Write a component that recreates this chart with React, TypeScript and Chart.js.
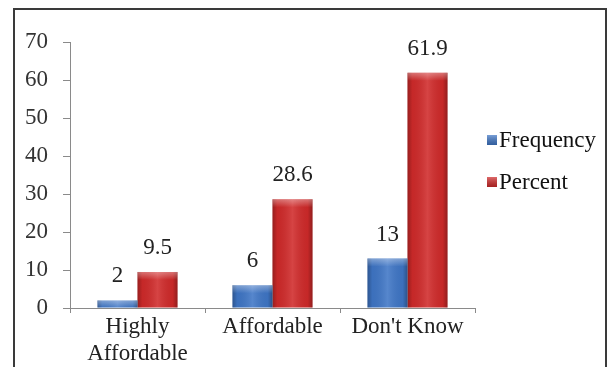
import React, { useEffect, useRef } from "react";
import { Chart, registerables } from "chart.js";

Chart.register(...registerables);

const categories: (string | string[])[] = [["Highly", "Affordable"], "Affordable", "Don't Know"];
const frequency = [2, 6, 13];
const percent = [9.5, 28.6, 61.9];
const seriesNames = ["Frequency", "Percent"];
const seriesColors = ["#3f76c6", "#d02a2a"];
const yMin = 0;
const yMax = 70;
const yStep = 10;

const FONT = "'Liberation Serif', 'Times New Roman', serif";

const barShadePlugin = {
  id: "barShade",
  afterDatasetsDraw(chart: any) {
    const ctx = chart.ctx;
    ctx.save();
    chart.data.datasets.forEach((ds: any, i: number) => {
      const meta = chart.getDatasetMeta(i);
      meta.data.forEach((el: any) => {
        const w = el.width;
        const left = el.x - w / 2;
        const top = el.y;
        const h = el.base - el.y;
        const g = ctx.createLinearGradient(left, 0, left + w, 0);
        g.addColorStop(0, "rgba(0,0,0,0.28)");
        g.addColorStop(0.12, "rgba(0,0,0,0.05)");
        g.addColorStop(0.5, "rgba(255,255,255,0.12)");
        g.addColorStop(0.88, "rgba(0,0,0,0.05)");
        g.addColorStop(1, "rgba(0,0,0,0.3)");
        ctx.fillStyle = g;
        ctx.fillRect(left, top, w, h);
        const tg = ctx.createLinearGradient(0, top, 0, top + Math.min(8, h));
        tg.addColorStop(0, "rgba(255,255,255,0.35)");
        tg.addColorStop(1, "rgba(255,255,255,0)");
        ctx.fillStyle = tg;
        ctx.fillRect(left, top, w, Math.min(8, h));
      });
    });
    ctx.restore();
  },
};

const valueLabelPlugin = {
  id: "valueLabels",
  afterDatasetsDraw(chart: any) {
    const ctx = chart.ctx;
    ctx.save();
    ctx.font = `23px ${FONT}`;
    ctx.fillStyle = "#222";
    ctx.textAlign = "center";
    ctx.textBaseline = "middle";
    chart.data.datasets.forEach((ds: any, i: number) => {
      const meta = chart.getDatasetMeta(i);
      meta.data.forEach((el: any, j: number) => {
        ctx.fillText(String(ds.data[j]), el.x, el.y - 24);
      });
    });
    ctx.restore();
  },
};

const sideLegendPlugin = {
  id: "sideLegend",
  afterDraw(chart: any) {
    const ctx = chart.ctx;
    ctx.save();
    ctx.font = `23px ${FONT}`;
    ctx.textAlign = "left";
    ctx.textBaseline = "middle";
    const x = chart.chartArea.right + 12;
    const y0 = 140;
    chart.data.datasets.forEach((ds: any, i: number) => {
      const y = y0 + i * 42;
      ctx.fillStyle = ds.backgroundColor;
      ctx.fillRect(x, y - 5, 10, 10);
      const g = ctx.createLinearGradient(0, y - 5, 0, y + 5);
      g.addColorStop(0, "rgba(255,255,255,0.3)");
      g.addColorStop(1, "rgba(0,0,0,0.2)");
      ctx.fillStyle = g;
      ctx.fillRect(x, y - 5, 10, 10);
      ctx.fillStyle = "#111";
      ctx.fillText(ds.label, x + 12, y + 1);
    });
    ctx.restore();
  },
};

export default function App() {
  const canvasRef = useRef<HTMLCanvasElement | null>(null);

  useEffect(() => {
    if (!canvasRef.current) return;
    const chart = new Chart(canvasRef.current, {
      type: "bar",
      data: {
        labels: categories,
        datasets: [
          { label: seriesNames[0], data: frequency, backgroundColor: seriesColors[0], borderWidth: 0 },
          { label: seriesNames[1], data: percent, backgroundColor: seriesColors[1], borderWidth: 0 },
        ],
      },
      options: {
        responsive: false,
        animation: false,
        devicePixelRatio: 1,
        layout: { padding: { left: 0, top: 42, right: 134, bottom: 0 } },
        datasets: { bar: { categoryPercentage: 0.593, barPercentage: 1.0 } },
        plugins: {
          legend: { display: false },
          tooltip: { enabled: false },
        },
        scales: {
          x: {
            offset: true,
            grid: {
              offset: true,
              drawOnChartArea: false,
              drawTicks: true,
              tickLength: 5,
              color: "#8a8a8a",
            },
            border: { color: "#8a8a8a", width: 1 },
            ticks: {
              color: "#222",
              padding: 0,
              maxRotation: 0,
              autoSkip: false,
              font: { family: FONT, size: 23, lineHeight: 1.2 },
            },
            afterFit(scale: any) {
              scale.height = 59;
            },
          },
          y: {
            min: yMin,
            max: yMax,
            grid: {
              drawOnChartArea: false,
              drawTicks: true,
              tickLength: 7,
              color: "#8a8a8a",
            },
            border: { color: "#8a8a8a", width: 1 },
            ticks: {
              stepSize: yStep,
              color: "#333",
              padding: 15,
              font: { family: FONT, size: 23 },
            },
            afterFit(scale: any) {
              scale.width = 70;
            },
          },
        },
      },
      plugins: [barShadePlugin, valueLabelPlugin, sideLegendPlugin],
    });
    return () => chart.destroy();
  }, []);

  return (
    <div
      style={{
        position: "absolute",
        left: 0,
        top: 0,
        width: 609,
        height: 367,
        overflow: "hidden",
        background: "#fff",
      }}
    >
      <div
        style={{
          position: "absolute",
          left: 13,
          top: 8,
          width: 590,
          height: 400,
          border: "2px solid #3a3a3a",
          boxSizing: "content-box",
        }}
      />
      <canvas
        ref={canvasRef}
        width={609}
        height={367}
        style={{ position: "absolute", left: 0, top: 0, display: "block" }}
      />
    </div>
  );
}
